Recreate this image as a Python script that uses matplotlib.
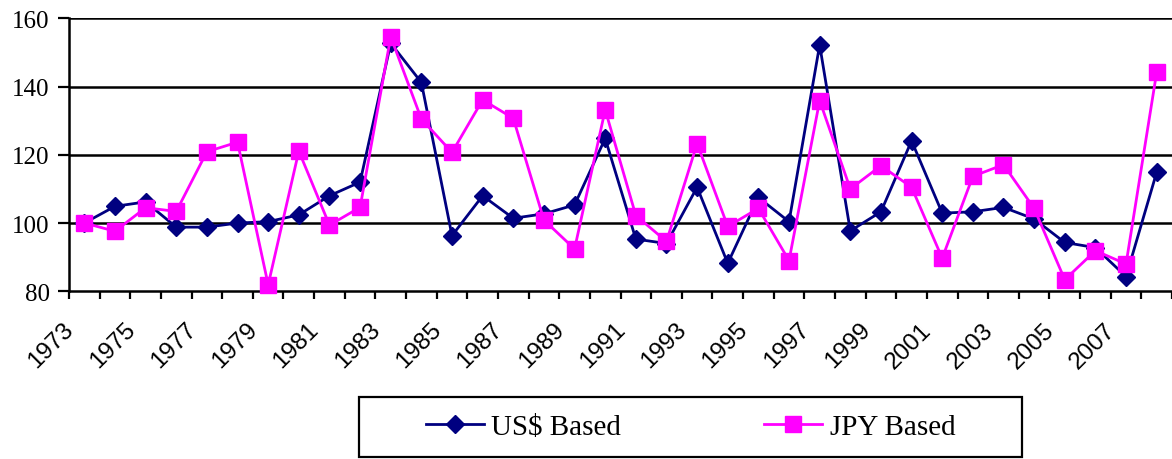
import matplotlib
matplotlib.use("Agg")
import matplotlib.pyplot as plt
from matplotlib.patches import Rectangle
from matplotlib.lines import Line2D
from matplotlib.transforms import ScaledTranslation

years = list(range(1973, 2009))
us_based = [100.0, 104.9, 106.2, 98.8, 98.8, 100.0, 100.4, 102.4, 108.0, 112.0,
            152.7, 141.2, 96.3, 108.0, 101.4, 102.7, 105.3, 124.8, 95.3, 94.0,
            110.5, 88.2, 107.5, 100.4, 152.2, 97.7, 103.3, 124.1, 102.9, 103.3,
            104.6, 101.2, 94.3, 92.8, 84.3, 114.9]
jpy_based = [100.0, 97.6, 104.5, 103.4, 120.9, 123.7, 81.9, 121.1, 99.4, 104.6,
             154.6, 130.5, 120.7, 136.1, 130.7, 100.9, 92.4, 133.2, 102.2, 94.6,
             123.3, 99.0, 104.3, 89.0, 135.9, 110.0, 116.8, 110.5, 89.7, 113.7,
             117.1, 104.3, 83.4, 91.9, 88.0, 144.2]
y_ticks = [80, 100, 120, 140, 160]
series_names = ["US$ Based", "JPY Based"]

NAVY = "#000080"
MAGENTA = "#FF00FF"
SERIF = ["Liberation Serif", "DejaVu Serif"]
SANS = ["Liberation Sans", "DejaVu Sans"]
LW = 2.0
D_MS = 9.0
S_MS = 11.0

fig = plt.figure(figsize=(11.72, 4.60), dpi=100)
ax = fig.add_axes([0.0589, 0.3646, 0.9411, 0.5934])

x = list(range(len(years)))
ax.plot(x, us_based, color=NAVY, lw=LW, marker="D", ms=D_MS,
        mfc=NAVY, mec=NAVY, zorder=3, clip_on=False)
ax.plot(x, jpy_based, color=MAGENTA, lw=LW, marker="s", ms=S_MS,
        mfc=MAGENTA, mec=MAGENTA, zorder=4, clip_on=False)

ax.set_xlim(-0.5, len(years) - 0.5)
ax.set_ylim(80, 160)

# horizontal gridlines
for v in y_ticks[1:]:
    ax.axhline(v, color="black", lw=1.8, zorder=1)

for s in ["top", "right"]:
    ax.spines[s].set_visible(False)
ax.spines["left"].set_linewidth(1.8)
ax.spines["bottom"].set_linewidth(1.8)

ax.set_yticks(y_ticks)
ax.set_yticklabels([str(v) for v in y_ticks], fontfamily=SERIF, fontsize=18)
ax.tick_params(axis="y", direction="out", length=8, width=1.6, pad=6)

# category boundaries carry the tick marks, labels sit on every other year
ax.set_xticks([i - 0.5 for i in range(len(years) + 1)], minor=True)
ax.tick_params(axis="x", which="minor", direction="out", length=6, width=1.6)
label_idx = list(range(0, len(years) - 1, 2))
ax.set_xticks(label_idx)
ax.set_xticklabels([str(years[i]) for i in label_idx], rotation=45,
                   ha="right", va="center", rotation_mode="anchor",
                   fontfamily=SANS, fontsize=17.5)
ax.tick_params(axis="x", which="major", length=0, pad=25)
shift = ScaledTranslation(-14 / 100, 0, fig.dpi_scale_trans)
for lab in ax.get_xticklabels():
    lab.set_transform(lab.get_transform() + shift)

# legend box below the plot
fig.patches.append(Rectangle((359 / 1172, 2 / 460), (1022 - 359) / 1172,
                             (458 - 398) / 460, transform=fig.transFigure,
                             fill=False, edgecolor="black", lw=1.6))
handles = [Line2D([], [], color=NAVY, lw=LW, marker="D", ms=D_MS),
           Line2D([], [], color=MAGENTA, lw=LW, marker="s", ms=S_MS)]
fig.legend(handles, series_names, loc="center",
           bbox_to_anchor=((359 + 1022) / 2 / 1172, 1 - 428 / 460),
           ncol=2, frameon=False, handlelength=2.0, handletextpad=0.25,
           columnspacing=4.9, prop={"family": SERIF, "size": 21})

fig.savefig("out.png", dpi=100)
